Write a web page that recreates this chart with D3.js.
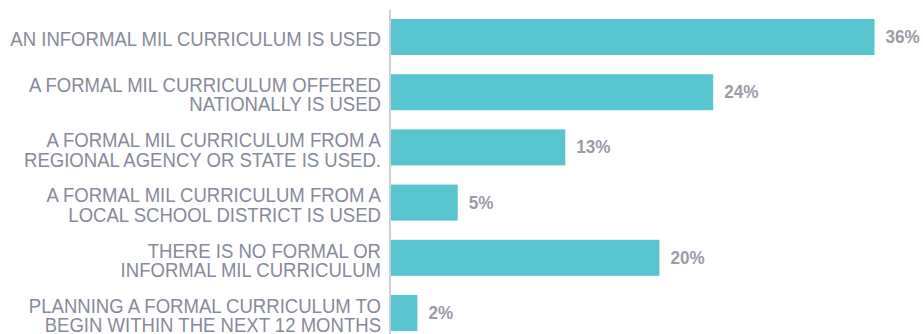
<!DOCTYPE html>
<html>
<head>
<meta charset="utf-8">
<script src="https://cdn.jsdelivr.net/npm/d3@7"></script>
<style>
  html, body { margin: 0; padding: 0; background: #ffffff; }
  svg { display: block; }
</style>
</head>
<body>
<svg id="chart" width="923" height="334"></svg>
<script>
// ---- data ----
const categories = [
  ["AN INFORMAL MIL CURRICULUM IS USED"],
  ["A FORMAL MIL CURRICULUM OFFERED", "NATIONALLY IS USED"],
  ["A FORMAL MIL CURRICULUM FROM A", "REGIONAL AGENCY OR STATE IS USED."],
  ["A FORMAL MIL CURRICULUM FROM A", "LOCAL SCHOOL DISTRICT IS USED"],
  ["THERE IS NO FORMAL OR", "INFORMAL MIL CURRICULUM"],
  ["PLANNING A FORMAL CURRICULUM TO", "BEGIN WITHIN THE NEXT 12 MONTHS"]
];
const values = [36, 24, 13, 5, 20, 2];
const valueLabels = ["36%", "24%", "13%", "5%", "20%", "2%"];

// ---- layout ----
const svg = d3.select("#chart");
const ids = categories.map((d, i) => i);

const x = d3.scaleLinear().domain([0, 36]).range([390.5, 874.5]);
const y = d3.scaleBand().domain(ids).range([9.4, 340.6]).paddingInner(0.348).paddingOuter(0.174);

// bars
svg.append("g").selectAll("rect").data(ids).join("rect")
  .attr("x", x(0))
  .attr("y", i => y(i))
  .attr("width", i => x(values[i]) - x(0))
  .attr("height", y.bandwidth())
  .attr("fill", "#57c5d0");

// axis line
svg.append("line")
  .attr("x1", x(0) - 0.5).attr("x2", x(0) - 0.5)
  .attr("y1", 9.5).attr("y2", 334)
  .attr("stroke", "#cfcfd6").attr("stroke-width", 2);

// category labels (condensed via horizontal scale)
const lineH = 19.3;
const catScale = 0.905;
ids.forEach(i => {
  const lines = categories[i];
  const c = y(i) + y.bandwidth() / 2;
  const first = c + 9.5 - (lines.length - 1) * lineH / 2;
  const g = svg.append("g").attr("transform", `translate(381,0) scale(${catScale},1)`);
  const t = g.append("text")
    .attr("font-family", "'Liberation Sans', Arial, sans-serif")
    .attr("font-size", "20.5px")
    .attr("fill", "#878a9a")
    .attr("text-anchor", "end");
  lines.forEach((ln, k) => {
    t.append("tspan").attr("x", 0).attr("y", first + k * lineH).text(ln);
  });
});

// value labels
ids.forEach(i => {
  svg.append("g")
    .attr("transform", `translate(${x(values[i]) + 11},${y(i) + y.bandwidth() / 2 + 6}) scale(0.9,1)`)
    .append("text")
    .attr("font-family", "'Liberation Sans', Arial, sans-serif")
    .attr("font-weight", "bold")
    .attr("font-size", "19px")
    .attr("fill", "#9b9ba8")
    .text(valueLabels[i]);
});
</script>
</body>
</html>
